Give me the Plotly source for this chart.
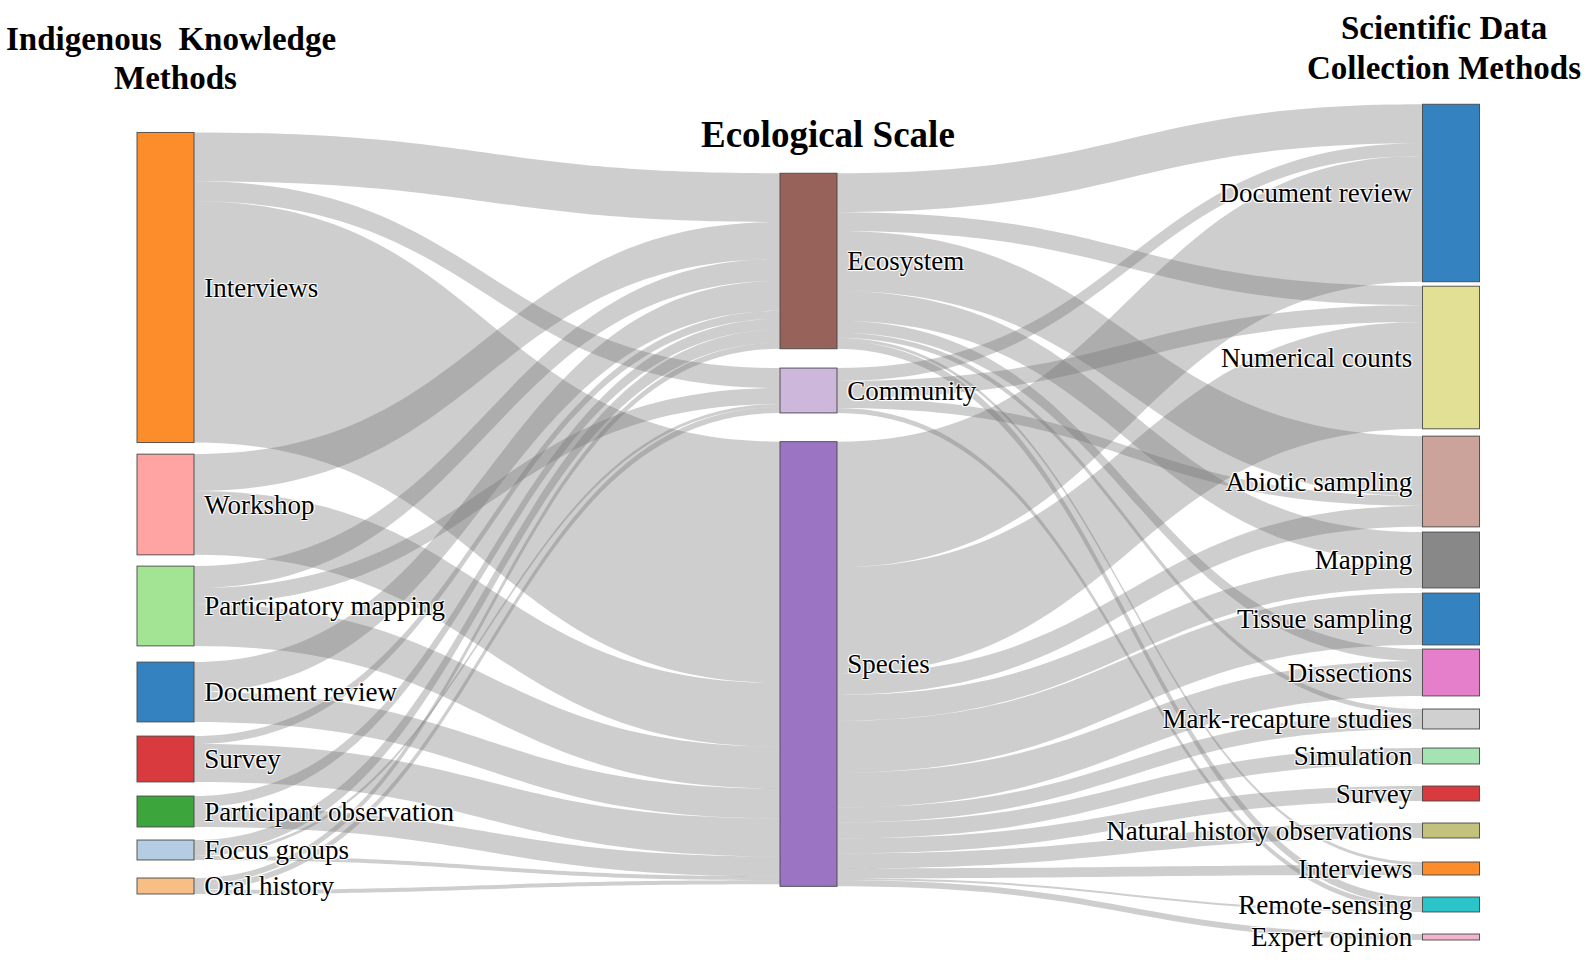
import plotly.graph_objects as go

# ---------------- data ----------------
ik_methods = ["Interviews", "Workshop", "Participatory mapping", "Document review",
              "Survey", "Participant observation", "Focus groups", "Oral history"]
scales = ["Ecosystem", "Community", "Species"]
sci_methods = ["Document review", "Numerical counts", "Abiotic sampling", "Mapping",
               "Tissue sampling", "Dissections", "Mark-recapture studies", "Simulation",
               "Survey", "Natural history observations", "Interviews", "Remote-sensing",
               "Expert opinion"]

# flows from each Indigenous Knowledge method to [Ecosystem, Community, Species]
interviews_to_scale = [49, 20, 242]
workshop_to_scale = [37, 0, 64]
part_mapping_to_scale = [22, 16, 42]
doc_review_to_scale = [30, 0, 30]
survey_to_scale = [8, 0, 38]
part_obs_to_scale = [11, 0, 20]
focus_groups_to_scale = [13, 3, 4]
oral_history_to_scale = [6, 6, 4]
ik_to_scale = [interviews_to_scale, workshop_to_scale, part_mapping_to_scale,
               doc_review_to_scale, survey_to_scale, part_obs_to_scale,
               focus_groups_to_scale, oral_history_to_scale]

# flows from each ecological scale to the scientific methods (order of sci_methods)
ecosystem_to_sci = [39, 19, 60, 30, 0, 12, 5, 0, 0, 0, 3, 8, 0]
community_to_sci = [13, 17, 10, 0, 0, 0, 0, 0, 0, 0, 0, 5, 0]
species_to_sci = [126, 107, 21, 26, 52, 35, 15, 16, 15, 15, 10, 2, 6]
scale_to_sci = [ecosystem_to_sci, community_to_sci, species_to_sci]

# ---------------- layout helpers ----------------
W, H = 1595, 972
col_x_px = [165.5, 808.5, 1451]          # node column centres
ik_top_px = [132, 454, 566, 662, 736, 796, 840, 878]
scale_top_px = [173, 368, 441]
sci_top_px = [104, 286, 436, 532, 593, 649, 709, 748, 786, 823, 862, 897, 934]

ik_colors = ["#fc8d2a", "#ffa3a3", "#a3e394", "#3582c0", "#d83a3d", "#3ca63c",
             "#b5cde3", "#f7bf86"]
scale_colors = ["#96625a", "#cdb8dc", "#9b74c4"]
sci_colors = ["#3582c0", "#e1e095", "#cba39b", "#888888", "#3582c0", "#e57fcb",
              "#d0d0d0", "#a6e3b2", "#d83a3d", "#c2c27c", "#fc8d2a", "#2bc4c8",
              "#f2b3cf"]

nL, nM, nR = len(ik_methods), len(scales), len(sci_methods)
NB = "\u00a0"
labels = ([NB + s for s in ik_methods] + [NB + s for s in scales]
          + [s + NB for s in sci_methods])
colors = ik_colors + scale_colors + sci_colors

src, tgt, val = [], [], []
for i, row in enumerate(ik_to_scale):
    for j, v in enumerate(row):
        if v > 0:
            src.append(i); tgt.append(nL + j); val.append(v)
for j, row in enumerate(scale_to_sci):
    for k, v in enumerate(row):
        if v > 0:
            src.append(nL + j); tgt.append(nL + nM + k); val.append(v)

ik_tot = [sum(r) for r in ik_to_scale]
scale_tot = [sum(r) for r in scale_to_sci]
sci_tot = [sum(scale_to_sci[j][k] for j in range(nM)) for k in range(nR)]
total = sum(ik_tot)
pad = (H - total) / (nR - 1)   # gives ~1 px per unit

xs, ys = [], []
for tops, tots, cx in [(ik_top_px, ik_tot, col_x_px[0]),
                       (scale_top_px, scale_tot, col_x_px[1]),
                       (sci_top_px, sci_tot, col_x_px[2])]:
    for t, v in zip(tops, tots):
        xs.append(cx / W)
        ys.append((t + v / 2) / H)

fig = go.Figure(go.Sankey(
    arrangement="fixed",
    domain=dict(x=[0, 1], y=[0, 1]),
    node=dict(label=labels, color=colors, x=xs, y=ys, pad=pad, thickness=57,
              line=dict(color="rgba(70,70,70,0.9)", width=1)),
    link=dict(source=src, target=tgt, value=val,
              color="rgba(110,110,110,0.34)"),
    textfont=dict(family="Liberation Serif", size=27, color="black"),
    hoverinfo="none",
))

title_font = dict(family="Liberation Serif", size=33, color="black")


def title(text, xpx, ypx, font=title_font):
    return dict(text="<b>" + text + "</b>", x=xpx / W, y=1 - ypx / H,
                xref="paper", yref="paper", showarrow=False, font=font,
                xanchor="center", yanchor="middle")


fig.update_layout(
    width=W, height=H, margin=dict(l=0, r=0, t=0, b=0),
    paper_bgcolor="white", plot_bgcolor="white",
    annotations=[
        title("Indigenous\u00a0\u00a0Knowledge", 171, 39),
        title("Methods", 175, 78),
        title("Ecological Scale", 828, 135,
              dict(family="Liberation Serif", size=37, color="black")),
        title("Scientific Data", 1444, 28),
        title("Collection Methods", 1444, 68),
    ],
)

fig.write_html("out.html", config={"displayModeBar": False},
               post_script="document.body.style.margin='0px';")
